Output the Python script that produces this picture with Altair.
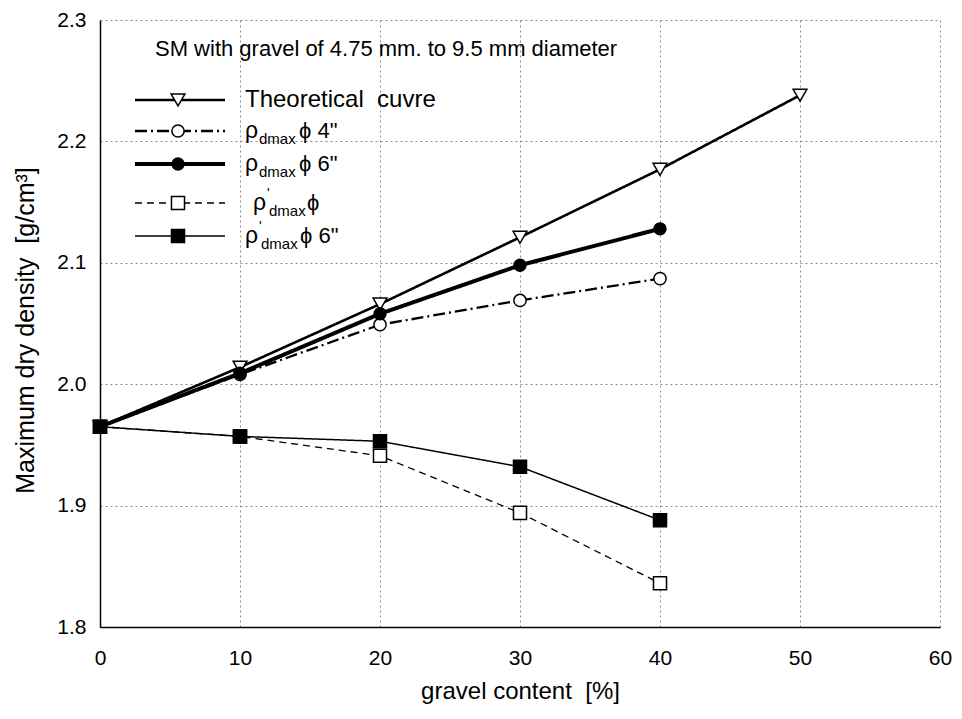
import altair as alt
import pandas as pd

# ---------------- data ----------------
gravel = [0, 10, 20, 30, 40, 50]
theoretical = [1.965, 2.014, 2.066, 2.121, 2.177, 2.238]
rho_dmax_4 = [1.965, 2.008, 2.049, 2.069, 2.087]
rho_dmax_6 = [1.965, 2.009, 2.058, 2.098, 2.128]
rho_p_dmax = [1.965, 1.957, 1.941, 1.894, 1.836]
rho_p_dmax_6 = [1.965, 1.957, 1.953, 1.932, 1.888]

x_ticks = [0, 10, 20, 30, 40, 50, 60]
y_ticks = [1.8, 1.9, 2.0, 2.1, 2.2, 2.3]

NB = "\u00a0"
chart_title = "SM with gravel of 4.75 mm. to 9.5 mm diameter"
x_title = "gravel content" + NB + NB + "[%]"
y_title = "Maximum dry density" + NB + NB + "[g/cm\u00b3]"

FONT = "Liberation Sans"

# series styles: values, line dash, line width, marker shape, marker fill, size
series = [
    ("Theoretical", theoretical, [1, 0], 2.6, "triangle-down", "white", 190),
    ("rho4", rho_dmax_4, [12, 4, 2, 4], 2.3, "circle", "white", 150),
    ("rho6", rho_dmax_6, [1, 0], 4.0, "circle", "black", 140),
    ("rhop", rho_p_dmax, [7, 5], 1.3, "square", "white", 170),
    ("rhop6", rho_p_dmax_6, [1, 0], 1.5, "square", "black", 170),
]

x_scale = alt.Scale(domain=[0, 60], nice=False, zero=False)
y_scale = alt.Scale(domain=[1.8, 2.3], nice=False, zero=False)

x_axis = alt.Axis(
    values=x_ticks, format="d", title=x_title, grid=True,
    gridDash=[2, 3], gridColor="#8a8a8a", gridWidth=1,
    domainColor="black", domainWidth=1.5, ticks=False, labelFlush=False,
    labelFont=FONT, labelFontSize=21, labelColor="black", labelPadding=20,
    titleFont=FONT, titleFontSize=24, titleFontWeight="normal", titleColor="black",
    titleBaseline="middle", titleY=64,
)
y_axis = alt.Axis(
    values=y_ticks, format=".1f", title=y_title, grid=True,
    gridDash=[2, 3], gridColor="#8a8a8a", gridWidth=1,
    domainColor="black", domainWidth=1.5, ticks=False, labelFlush=False,
    labelFont=FONT, labelFontSize=21, labelColor="black", labelPadding=14,
    titleFont=FONT, titleFontSize=25, titleFontWeight="normal", titleColor="black",
    titleAngle=270, titleBaseline="middle", titleAlign="center", titleX=-75, titleY=310,
)

X = alt.X("g:Q", scale=x_scale, axis=x_axis)
Y = alt.Y("v:Q", scale=y_scale, axis=y_axis)

line_layers = []
point_layers = []
for name, vals, dash, width, shape, fill, size in series:
    df = pd.DataFrame({"g": gravel[: len(vals)], "v": vals})
    base = alt.Chart(df)
    line_layers.append(
        base.mark_line(color="black", strokeWidth=width, strokeDash=dash).encode(x=X, y=Y)
    )
    point_layers.append(
        base.mark_point(shape=shape, filled=True, fill=fill, stroke="black",
                        strokeWidth=1.5, size=size, opacity=1).encode(x=X, y=Y)
    )

# ---------------- legend drawn inside the plot ----------------
one = pd.DataFrame({"a": [0]})
legend_layers = []
row_y = [80, 111, 144, 183, 216]
for (name, vals, dash, width, shape, fill, size), ry in zip(series, row_y):
    legend_layers.append(
        alt.Chart(one).mark_rule(color="black", strokeWidth=width, strokeDash=dash).encode(
            x=alt.value(35), x2=alt.value(125), y=alt.value(ry))
    )
    legend_layers.append(
        alt.Chart(one).mark_point(shape=shape, filled=True, fill=fill, stroke="black",
                                  strokeWidth=1.5, size=size, opacity=1).encode(
            x=alt.value(78), y=alt.value(ry))
    )


def txt(s, x, y, size=21):
    return alt.Chart(one).mark_text(
        text=s, font=FONT, fontSize=size, color="black", align="left", baseline="middle"
    ).encode(x=alt.value(x), y=alt.value(y))


legend_layers += [
    txt(chart_title, 55, 29, 22),
    txt("Theoretical" + NB + NB + "cuvre", 145, row_y[0], 24),
    # rho_dmax phi 4"
    txt("\u03c1", 145, row_y[1], 23),
    txt("dmax", 159, row_y[1] + 8, 15),
    txt("\u03d5 4\"", 199, row_y[1], 22),
    # rho_dmax phi 6"
    txt("\u03c1", 145, row_y[2], 23),
    txt("dmax", 159, row_y[2] + 8, 15),
    txt("\u03d5 6\"", 199, row_y[2], 22),
    # rho'_dmax phi
    txt("\u03c1", 153, row_y[3], 23),
    txt("'", 167, row_y[3] - 9, 14),
    txt("dmax", 169, row_y[3] + 8, 15),
    txt("\u03d5", 207, row_y[3], 22),
    # rho'_dmax phi 6"
    txt("\u03c1", 145, row_y[4], 23),
    txt("'", 159, row_y[4] - 9, 14),
    txt("dmax", 161, row_y[4] + 8, 15),
    txt("\u03d5 6\"", 200, row_y[4], 22),
]

chart = alt.layer(*line_layers, *point_layers, *legend_layers).properties(
    width=840,
    height=607,
    autosize=alt.AutoSizeParams(type="none"),
    padding={"left": 92, "top": 12, "right": 12, "bottom": 84},
    background="white",
).configure_view(stroke=None)

chart.save("out.html", embed_options={"renderer": "svg", "actions": False})
